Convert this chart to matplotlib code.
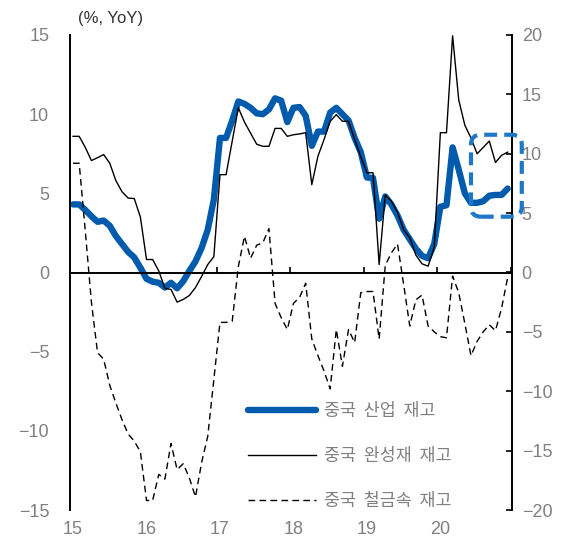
import matplotlib.pyplot as plt
import numpy as np
from matplotlib.patches import FancyBboxPatch

plt.rcParams['font.family'] = ['Liberation Sans', 'Noto Sans CJK KR']

# monthly YoY, 2015-01 .. 2020-12 (Jan = Feb value)
years = ['15', '16', '17', '18', '19', '20']

industry = [4.3, 4.3, 3.95, 3.55, 3.2, 3.28, 2.95, 2.3, 1.8, 1.3, 0.95, 0.3,
            -0.4, -0.58, -0.65, -0.95, -0.65, -1.0, -0.55, 0.1, 0.7, 1.55, 2.7, 4.6,
            8.5, 8.5, 9.6, 10.8, 10.65, 10.4, 10.05, 10.0, 10.3, 11.0, 10.85, 9.5,
            10.4, 10.45, 9.9, 8.0, 8.9, 8.9, 10.1, 10.4, 10.0, 9.6, 8.5, 7.6,
            6.0, 5.97, 3.4, 4.8, 4.3, 3.6, 2.7, 2.1, 1.5, 1.05, 0.9, 1.8,
            4.15, 4.25, 7.9, 6.5, 5.0, 4.4, 4.4, 4.5, 4.85, 4.9, 4.9, 5.3]

finished = [8.6, 8.6, 7.9, 7.07, 7.25, 7.45, 6.9, 5.8, 5.1, 4.7, 4.67, 3.5,
            0.82, 0.82, 0.1, -1.0, -1.07, -1.87, -1.7, -1.45, -0.95, -0.25, 0.5, 1.0,
            6.18, 6.18, 8.3, 10.4, 9.5, 8.8, 8.1, 7.97, 7.97, 9.1, 9.1, 8.6,
            8.7, 8.75, 8.83, 5.55, 7.34, 8.4, 9.55, 9.97, 9.55, 9.55, 8.4, 7.3,
            6.3, 6.3, 0.5, 4.9, 4.5, 3.8, 2.7, 2.2, 1.1, 0.55, 0.4, 1.6,
            8.83, 8.83, 14.95, 10.9, 9.3, 8.5, 7.5, 7.9, 8.3, 6.95, 7.4, 7.6]

ferrous = [9.2, 9.2, 3.5, -2.5, -6.75, -7.3, -9.5, -11.0, -12.4, -13.6, -14.2, -15.1,
           -19.2, -19.2, -17.0, -17.4, -14.4, -16.6, -16.1, -17.3, -18.9, -16.0, -13.8, -9.0,
           -4.2, -4.2, -4.1, 0.5, 3.05, 1.2, 2.3, 2.5, 3.7, -2.6, -3.8, -4.8,
           -2.6, -2.1, -0.9, -5.6, -7.0, -8.3, -9.8, -4.8, -7.9, -4.8, -5.9, -1.7,
           -1.6, -1.6, -5.6, 0.6, 1.65, 2.4, -1.0, -4.5, -2.3, -1.9, -4.5, -5.0,
           -5.4, -5.5, -0.3, -1.7, -4.3, -7.0, -5.8, -5.0, -4.4, -4.9, -3.0, -0.4]

labels = ['중국  산업  재고', '중국  완성재  재고', '중국  철금속  재고']

months = np.arange(len(industry))
gray = '#808080'
blue = '#005BAC'

fig = plt.figure(figsize=(5.69, 5.45), dpi=100)
ax = fig.add_axes([0.123, 0.0642, 0.7768, 0.8716])
ax2 = ax.twinx()

l1, = ax.plot(months, industry, color=blue, lw=4.6, solid_capstyle='round',
              solid_joinstyle='round', zorder=2)
l2, = ax.plot(months, finished, color='black', lw=1.0, zorder=3)
l3, = ax2.plot(months, ferrous, color='black', lw=1.0, dashes=(4.8, 3.1))

ax.set_xlim(-0.5, 71.7)
ax.set_ylim(-15, 15)
ax2.set_ylim(-20, 20)

# left axis
ax.set_yticks(np.arange(-15, 16, 5))
ax.tick_params(axis='y', length=0, pad=15, labelsize=13, labelcolor=gray)
ax.spines['left'].set_linewidth(1.4)
ax.spines['top'].set_visible(False)
ax.spines['right'].set_visible(False)

# zero line with year separators
ax.spines['bottom'].set_position(('data', 0))
ax.spines['bottom'].set_linewidth(1.4)
ax.set_xticks([])
ax.set_xticks(np.arange(11.5, 72, 12), minor=True)
ax.tick_params(axis='x', which='minor', direction='in', length=4, width=1.2)

secx = ax.secondary_xaxis('bottom')
secx.set_xticks(np.arange(0, 72, 12), years)
secx.tick_params(length=0, pad=8, labelsize=13, labelcolor=gray)
secx.spines['bottom'].set_visible(False)

# right axis
ax2.set_yticks(np.arange(-20, 21, 5))
ax2.tick_params(axis='y', direction='in', length=4, width=1.2, pad=7,
                labelsize=13, labelcolor=gray)
ax2.spines['right'].set_linewidth(1.4)
for s in ['left', 'top', 'bottom']:
    ax2.spines[s].set_visible(False)

fmt = plt.FuncFormatter(lambda v, p: f'{v:.0f}'.replace('-', '\u2212'))
ax.yaxis.set_major_formatter(fmt)
ax2.yaxis.set_major_formatter(fmt)

fig.text(78 / 569, 1 - 18 / 545, '(%, YoY)', fontsize=12, color='#333333', va='center')

# highlight box on recent months
box = FancyBboxPatch((65.0, 4.7), 8.3, 6.9,
                     boxstyle='round,pad=0,rounding_size=1.6', mutation_aspect=0.52,
                     transform=ax2.transData, fill=False, edgecolor='#1F77C8',
                     lw=3, linestyle=(0, (3.1, 1.7)), clip_on=False, zorder=5)
ax2.add_patch(box)

leg = ax2.legend([l1, l2, l3], labels, loc='upper left',
                 bbox_to_anchor=(248 / 569, 1 - 402 / 545), bbox_transform=fig.transFigure,
                 frameon=False, borderpad=0, borderaxespad=0, handlelength=3.9,
                 handletextpad=0.45, labelspacing=1.55,
                 prop={'family': 'Noto Sans CJK KR', 'size': 12.5})
for t in leg.get_texts():
    t.set_color(gray)

fig.savefig('out.png', dpi=100)
